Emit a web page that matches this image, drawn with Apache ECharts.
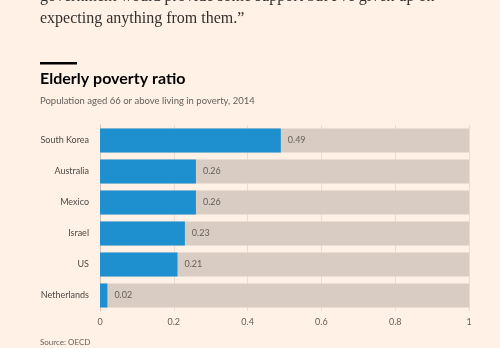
<!DOCTYPE html>
<html><head><meta charset="utf-8">
<script src="https://cdn.jsdelivr.net/npm/echarts@6/dist/echarts.min.js"></script>
<style>
html,body{margin:0;padding:0;background:#FFF1E5;}
#c{width:500px;height:348px;}
</style></head>
<body><div id="c"></div>
<script>
const categories = ["South Korea","Australia","Mexico","Israel","US","Netherlands"];
const values = [0.49,0.26,0.26,0.23,0.21,0.02];
const tickLabels = ["0","0.2","0.4","0.6","0.8","1"];
const titleText = "Elderly poverty ratio";
const subtitleText = "Population aged 66 or above living in poverty, 2014";
const sourceText = "Source: OECD";
const quoteLines = ["government would provide some support but I've given up on","expecting anything from them.\u201d"];

const chart = echarts.init(document.getElementById('c'), null, {renderer:'canvas'});
const sans = "Lato, 'Noto Sans', sans-serif";
const serif = "16px 'Liberation Serif', Georgia, serif";
chart.setOption({
  backgroundColor:'#FFF1E5',
  animation:false,
  graphic:[
    {type:'text', left:40, top:-11, style:{text:quoteLines[0], font:serif, fill:'#33302E'}},
    {type:'text', left:40, top:11, style:{text:quoteLines[1], font:serif, fill:'#33302E'}},
    {type:'rect', shape:{x:40,y:62,width:37,height:2.5}, style:{fill:'#000'}},
    {type:'text', left:40, top:71, style:{text:titleText, font:"bold 16px "+sans, fill:'#000'}},
    {type:'text', left:40, top:96, style:{text:subtitleText, font:"9.5px "+sans, fill:'#66605C'}},
    {type:'text', left:40, top:338, style:{text:sourceText, font:"8px "+sans, fill:'#66605C'}}
  ],
  grid:{left:100,right:31,top:125,bottom:37,containLabel:false},
  xAxis:{type:'value',min:0,max:1,interval:0.2,
    axisLine:{show:false},axisTick:{show:false},
    axisLabel:{color:'#66605C',fontSize:9,fontFamily:sans,margin:7,
      formatter:(v)=>tickLabels[Math.round(v*5)]},
    splitLine:{show:true,lineStyle:{color:'#E8DDD4',width:1}}},
  yAxis:{type:'category',data:categories,inverse:true,
    axisLine:{show:true,lineStyle:{color:'#CFC4BB'}},axisTick:{show:false},
    axisLabel:{color:'#4D4845',fontSize:9,fontFamily:sans,margin:11}},
  series:[{
    type:'bar',data:values,barWidth:24,
    itemStyle:{color:'#1E8FCF'},
    showBackground:true,backgroundStyle:{color:'#D9CCC3'},
    label:{show:true,position:'right',distance:7,color:'#66605C',fontSize:9,fontFamily:sans,
      formatter:(p)=>String(p.value)}
  }]
});
</script></body></html>
